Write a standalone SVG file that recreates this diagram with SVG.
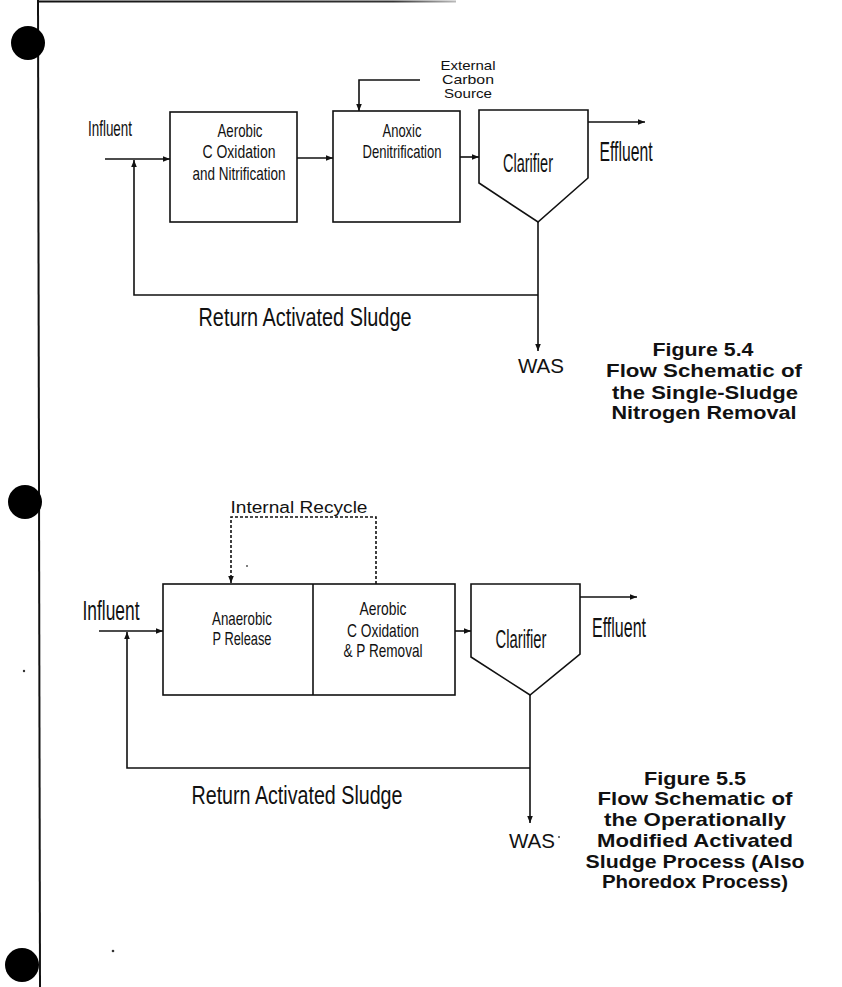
<svg xmlns="http://www.w3.org/2000/svg" width="842" height="987" viewBox="0 0 842 987">
<defs>
<marker id="ah" viewBox="0 0 10 10" refX="10" refY="5" markerWidth="7" markerHeight="7" markerUnits="userSpaceOnUse" orient="auto"><path d="M0,1 L10,5 L0,9 z" fill="#111"/></marker>
<linearGradient id="fade" x1="0" x2="1" y1="0" y2="0"><stop offset="0" stop-color="#111"/><stop offset="0.85" stop-color="#333"/><stop offset="1" stop-color="#bbb"/></linearGradient>
<style>
.ln{fill:none;stroke:#111;stroke-width:1.6}
.bx{fill:#fff;stroke:#111;stroke-width:1.6}
.ds{fill:none;stroke:#111;stroke-width:1.6;stroke-dasharray:3,2}
.t{font-family:"Liberation Sans",Arial,sans-serif;fill:#111;text-anchor:middle}
.s{font-size:19px}
.m{font-size:25px}
.c{font-family:"Liberation Sans",Arial,sans-serif;fill:#111;text-anchor:middle;font-weight:bold;font-size:19px}
.hole{fill:#000}
</style>
</defs>
<rect width="842" height="987" fill="#fff"/>
<g id="page">
<rect x="38" y="0.5" width="418" height="2" fill="url(#fade)"/>
<line x1="38" y1="0" x2="40" y2="987" stroke="#111" stroke-width="2"/>
<circle class="hole" cx="28" cy="43" r="17"/>
<circle class="hole" cx="25" cy="502" r="17"/>
<circle class="hole" cx="22" cy="965" r="17"/>
<circle cx="24" cy="671" r="1.2" fill="#333"/>
<circle cx="113" cy="951" r="1.3" fill="#333"/>
<circle cx="247" cy="566" r="1" fill="#555"/>
</g>
<g id="connectors">
<!-- Figure 5.4 -->
<line class="ln" x1="105" y1="159" x2="170" y2="159" marker-end="url(#ah)"/>
<line class="ln" x1="297" y1="158" x2="333" y2="158" marker-end="url(#ah)"/>
<polyline class="ln" points="420,80 359,80 359,111" marker-end="url(#ah)"/>
<line class="ln" x1="460" y1="157" x2="479" y2="157" marker-end="url(#ah)"/>
<line class="ln" x1="588" y1="122" x2="645" y2="122" marker-end="url(#ah)"/>
<line class="ln" x1="538" y1="222" x2="538" y2="351" marker-end="url(#ah)"/>
<polyline class="ln" points="538,295 134,295 134,160" marker-end="url(#ah)"/>
<!-- Figure 5.5 -->
<polyline class="ds" points="376,584 376,517 231,517 231,583" marker-end="url(#ah)"/>
<line class="ln" x1="99" y1="631" x2="163" y2="631" marker-end="url(#ah)"/>
<line class="ln" x1="455" y1="631" x2="471" y2="631" marker-end="url(#ah)"/>
<line class="ln" x1="580" y1="597" x2="637" y2="597" marker-end="url(#ah)"/>
<line class="ln" x1="530" y1="695" x2="530" y2="823" marker-end="url(#ah)"/>
<polyline class="ln" points="530,768 127,768 127,632" marker-end="url(#ah)"/>
</g>
<g id="fig54-aerobic">
<rect class="bx" x="170" y="112" width="127" height="110"/>
<text class="t s" x="240" y="137" textLength="45" lengthAdjust="spacingAndGlyphs">Aerobic</text>
<text class="t s" x="239" y="158" textLength="73" lengthAdjust="spacingAndGlyphs">C Oxidation</text>
<text class="t s" x="239" y="180" textLength="93" lengthAdjust="spacingAndGlyphs">and Nitrification</text>
</g>
<g id="fig54-anoxic">
<rect class="bx" x="333" y="111" width="127" height="111"/>
<text class="t s" x="402" y="137" textLength="39" lengthAdjust="spacingAndGlyphs">Anoxic</text>
<text class="t s" x="402" y="158" textLength="79" lengthAdjust="spacingAndGlyphs">Denitrification</text>
</g>
<g id="fig54-clarifier">
<polygon class="bx" points="479,110 588,110 588,178 538,222 479,183"/>
<text class="t" x="528" y="172" font-size="25" textLength="50" lengthAdjust="spacingAndGlyphs">Clarifier</text>
</g>
<g id="fig54-labels">
<text class="t" x="110" y="136" font-size="22" textLength="44" lengthAdjust="spacingAndGlyphs">Influent</text>
<text class="t" x="468" y="70" font-size="13" textLength="55" lengthAdjust="spacingAndGlyphs">External</text>
<text class="t" x="468" y="84" font-size="13" textLength="52" lengthAdjust="spacingAndGlyphs">Carbon</text>
<text class="t" x="468" y="98" font-size="13" textLength="48" lengthAdjust="spacingAndGlyphs">Source</text>
<text class="t" x="626" y="161" font-size="28" textLength="53" lengthAdjust="spacingAndGlyphs">Effluent</text>
<text class="t m" x="305" y="326" textLength="213" lengthAdjust="spacingAndGlyphs">Return Activated Sludge</text>
<text class="t" x="541" y="373" font-size="21" textLength="46" lengthAdjust="spacingAndGlyphs">WAS</text>
<text class="c" x="703" y="356" textLength="101" lengthAdjust="spacingAndGlyphs">Figure 5.4</text>
<text class="c" x="704" y="377" textLength="196" lengthAdjust="spacingAndGlyphs">Flow Schematic of</text>
<text class="c" x="705" y="399" textLength="186" lengthAdjust="spacingAndGlyphs">the Single-Sludge</text>
<text class="c" x="704" y="419" textLength="185" lengthAdjust="spacingAndGlyphs">Nitrogen Removal</text>
</g>
<g id="fig55-reactor">
<rect class="bx" x="163" y="584" width="292" height="111"/>
<line class="ln" x1="313" y1="584" x2="313" y2="695"/>
<text class="t s" x="242" y="625" textLength="60" lengthAdjust="spacingAndGlyphs">Anaerobic</text>
<text class="t s" x="242" y="645" textLength="59" lengthAdjust="spacingAndGlyphs">P Release</text>
<text class="t s" x="383" y="615" textLength="47" lengthAdjust="spacingAndGlyphs">Aerobic</text>
<text class="t s" x="383" y="637" textLength="72" lengthAdjust="spacingAndGlyphs">C Oxidation</text>
<text class="t s" x="383" y="657" textLength="79" lengthAdjust="spacingAndGlyphs">&amp; P Removal</text>
</g>
<g id="fig55-clarifier">
<polygon class="bx" points="471,584 580,584 580,654 530,695 471,657"/>
<text class="t" x="521" y="648" font-size="25" textLength="51" lengthAdjust="spacingAndGlyphs">Clarifier</text>
</g>
<g id="fig55-labels">
<text class="t" x="299" y="513" font-size="16" textLength="137" lengthAdjust="spacingAndGlyphs">Internal Recycle</text>
<text class="t" x="111" y="620" font-size="27" textLength="57" lengthAdjust="spacingAndGlyphs">Influent</text>
<text class="t" x="619" y="637" font-size="28" textLength="54" lengthAdjust="spacingAndGlyphs">Effluent</text>
<text class="t m" x="297" y="804" textLength="211" lengthAdjust="spacingAndGlyphs">Return Activated Sludge</text>
<text class="t" x="532" y="848" font-size="21" textLength="46" lengthAdjust="spacingAndGlyphs">WAS</text>
<circle cx="559" cy="837" r="0.9" fill="#333"/>
<text class="c" x="695" y="785" textLength="102" lengthAdjust="spacingAndGlyphs">Figure 5.5</text>
<text class="c" x="695" y="805" textLength="195" lengthAdjust="spacingAndGlyphs">Flow Schematic of</text>
<text class="c" x="695" y="826" textLength="182" lengthAdjust="spacingAndGlyphs">the Operationally</text>
<text class="c" x="695" y="847" textLength="196" lengthAdjust="spacingAndGlyphs">Modified Activated</text>
<text class="c" x="695" y="868" textLength="219" lengthAdjust="spacingAndGlyphs">Sludge Process (Also</text>
<text class="c" x="695" y="888" textLength="186" lengthAdjust="spacingAndGlyphs">Phoredox Process)</text>
</g>
</svg>
